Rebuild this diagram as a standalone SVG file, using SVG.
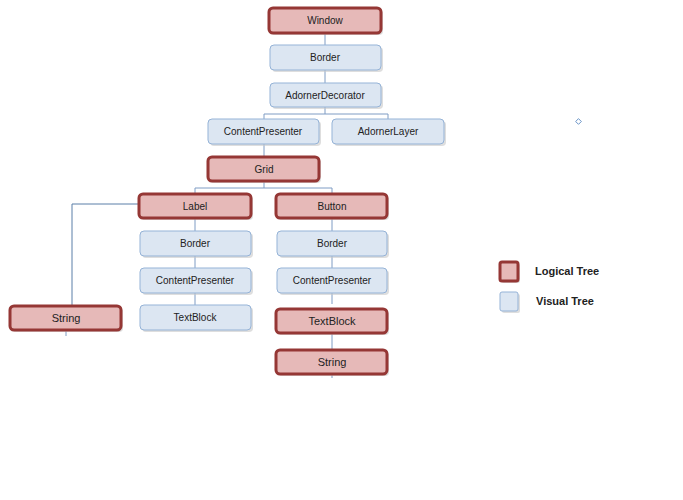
<svg xmlns="http://www.w3.org/2000/svg" width="683" height="500" viewBox="0 0 683 500">
<style>
.lg rect.b{fill:#e6b9b8;stroke:#953735;stroke-width:3}
.vs rect.b{fill:#dce6f2;stroke:#95b3d7;stroke-width:1}
rect.s{fill:#c8c8c8;opacity:0.6}
text{font-family:"Liberation Sans",Arial,sans-serif;font-size:10px;fill:#222;text-anchor:middle}
.leg{font-weight:bold;font-size:11px;text-anchor:start}
#connectors line,#connectors polyline{stroke:#7f9cc4;stroke-width:1;fill:none}
</style>
<rect width="683" height="500" fill="#ffffff"/>
<g id="connectors">
<line x1="325" y1="33" x2="325" y2="45"/>
<line x1="325" y1="70" x2="325" y2="83"/>
<polyline points="325,107 325,114"/>
<polyline points="264,119 264,114 388,114 388,119"/>
<line x1="264" y1="144" x2="264" y2="157"/>
<line x1="264" y1="181" x2="264" y2="188"/>
<polyline points="195,194 195,188 332,188 332,194"/>
<line x1="195" y1="218" x2="195" y2="231"/>
<line x1="195" y1="256" x2="195" y2="268"/>
<line x1="195" y1="293" x2="195" y2="305"/>
<line x1="332" y1="218" x2="332" y2="231"/>
<line x1="332" y1="256" x2="332" y2="268"/>
<line x1="332" y1="293" x2="332" y2="304"/>
<line x1="332" y1="333" x2="332" y2="350"/>
<line x1="332" y1="374" x2="332" y2="378"/>
<polyline points="139,204 72,204 72,306" style="stroke:#5a7ea8"/>
<line x1="66" y1="330" x2="66" y2="336"/>
</g>
<g id="window" class="lg"><rect class="s" x="271" y="10" width="112" height="25" rx="4"/><rect class="b" x="269" y="8" width="112" height="25" rx="4"/><text x="325" y="24">Window</text></g>
<g id="border1" class="vs"><rect class="s" x="272" y="47" width="111" height="25" rx="4"/><rect class="b" x="270" y="45" width="111" height="25" rx="4"/><text x="325" y="61">Border</text></g>
<g id="adornerDecorator" class="vs"><rect class="s" x="272" y="85" width="111" height="24" rx="4"/><rect class="b" x="270" y="83" width="111" height="24" rx="4"/><text x="325" y="99">AdornerDecorator</text></g>
<g id="contentPresenter1" class="vs"><rect class="s" x="210" y="121" width="111" height="25" rx="4"/><rect class="b" x="208" y="119" width="111" height="25" rx="4"/><text x="263" y="135">ContentPresenter</text></g>
<g id="adornerLayer" class="vs"><rect class="s" x="334" y="121" width="112" height="25" rx="4"/><rect class="b" x="332" y="119" width="112" height="25" rx="4"/><text x="388" y="135">AdornerLayer</text></g>
<g id="grid" class="lg"><rect class="s" x="210" y="159" width="111" height="24" rx="4"/><rect class="b" x="208" y="157" width="111" height="24" rx="4"/><text x="264" y="173">Grid</text></g>
<g id="label" class="lg"><rect class="s" x="141" y="196" width="112" height="24" rx="4"/><rect class="b" x="139" y="194" width="112" height="24" rx="4"/><text x="195" y="210">Label</text></g>
<g id="button" class="lg"><rect class="s" x="278" y="196" width="111" height="24" rx="4"/><rect class="b" x="276" y="194" width="111" height="24" rx="4"/><text x="332" y="210">Button</text></g>
<g id="borderL" class="vs"><rect class="s" x="142" y="233" width="111" height="25" rx="4"/><rect class="b" x="140" y="231" width="111" height="25" rx="4"/><text x="195" y="247">Border</text></g>
<g id="borderR" class="vs"><rect class="s" x="279" y="233" width="110" height="25" rx="4"/><rect class="b" x="277" y="231" width="110" height="25" rx="4"/><text x="332" y="247">Border</text></g>
<g id="contentPresenterL" class="vs"><rect class="s" x="142" y="270" width="111" height="25" rx="4"/><rect class="b" x="140" y="268" width="111" height="25" rx="4"/><text x="195" y="284">ContentPresenter</text></g>
<g id="contentPresenterR" class="vs"><rect class="s" x="279" y="270" width="110" height="25" rx="4"/><rect class="b" x="277" y="268" width="110" height="25" rx="4"/><text x="332" y="284">ContentPresenter</text></g>
<g id="textBlockL" class="vs"><rect class="s" x="142" y="307" width="111" height="25" rx="4"/><rect class="b" x="140" y="305" width="111" height="25" rx="4"/><text x="195" y="321">TextBlock</text></g>
<g id="textBlockR" class="lg"><rect class="s" x="278" y="311" width="111" height="24" rx="4"/><rect class="b" x="276" y="309" width="111" height="24" rx="4"/><text x="332" y="325" style="font-size:11px">TextBlock</text></g>
<g id="stringR" class="lg"><rect class="s" x="278" y="352" width="111" height="24" rx="4"/><rect class="b" x="276" y="350" width="111" height="24" rx="4"/><text x="332" y="366" style="font-size:11px">String</text></g>
<g id="stringL" class="lg"><rect class="s" x="12" y="308" width="111" height="24" rx="4"/><rect class="b" x="10" y="306" width="111" height="24" rx="4"/><text x="66" y="322" style="font-size:11px">String</text></g>
<g id="marker"><rect x="576.5" y="119.5" width="4" height="4" fill="#fff" stroke="#4f81bd" stroke-width="0.8" transform="rotate(45 578.5 121.5)"/></g>
<g id="legend">
<g class="lg"><rect class="s" x="502" y="264" width="18" height="19" rx="2"/><rect class="b" x="500" y="262" width="18" height="19" rx="2"/></g>
<text class="leg" x="535" y="275">Logical Tree</text>
<g class="vs"><rect class="s" x="502" y="294" width="18" height="19" rx="2"/><rect class="b" x="500" y="292" width="18" height="19" rx="2"/></g>
<text class="leg" x="536" y="305">Visual Tree</text>
</g>
</svg>
